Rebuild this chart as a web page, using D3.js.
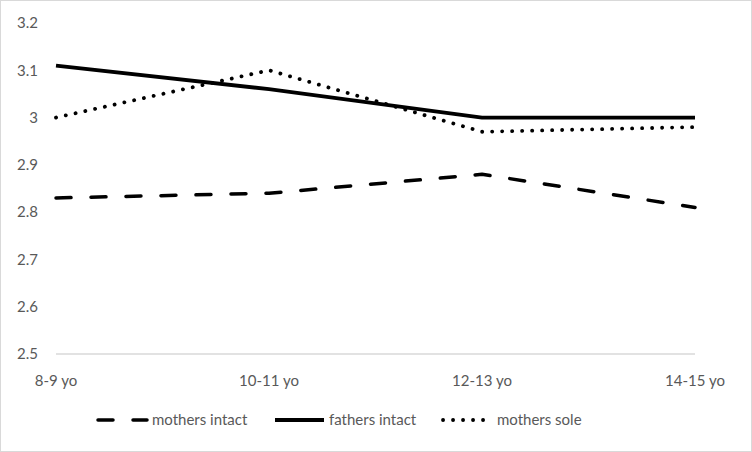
<!DOCTYPE html>
<html>
<head>
<meta charset="utf-8">
<script src="https://cdn.jsdelivr.net/npm/d3@7"></script>
<style>
  body { margin: 0; background: #fff; }
  svg { display: block; }
  text { font-family: Lato, "Open Sans", sans-serif; fill: #595959; font-size: 15px; }
</style>
</head>
<body>
<svg id="chart" width="752" height="452"></svg>
<script>
var categories = ["8-9 yo", "10-11 yo", "12-13 yo", "14-15 yo"];
var mothersIntact = [2.83, 2.84, 2.88, 2.81];
var fathersIntact = [3.11, 3.06, 3.00, 3.00];
var mothersSole = [3.00, 3.10, 2.97, 2.98];
var yTicks = [2.5, 2.6, 2.7, 2.8, 2.9, 3.0, 3.1, 3.2];
var seriesNames = ["mothers intact", "fathers intact", "mothers sole"];

var svg = d3.select("#chart");

// outer chart border
svg.append("rect")
    .attr("x", 0.5).attr("y", 0.5)
    .attr("width", 751).attr("height", 451)
    .attr("fill", "#fff")
    .attr("stroke", "#d9d9d9");

var x = d3.scalePoint().domain(categories).range([56, 695]);
var y = d3.scaleLinear().domain([2.5, 3.2]).range([354, 23]);

// baseline
svg.append("line")
    .attr("x1", 56).attr("x2", 695)
    .attr("y1", y(2.5)).attr("y2", y(2.5))
    .attr("stroke", "#d9d9d9").attr("stroke-width", 1.3);

// y tick labels
svg.append("g").selectAll("text")
    .data(yTicks)
    .enter().append("text")
        .attr("x", 38)
        .attr("y", function(d){ return y(d); })
        .attr("dy", "0.35em")
        .attr("text-anchor", "end")
        .text(function(d){ return d === 3 ? "3" : d3.format(".1f")(d); });

// x tick labels
svg.append("g").selectAll("text")
    .data(categories)
    .enter().append("text")
        .attr("x", function(d){ return x(d); })
        .attr("y", 381)
        .attr("dy", "0.35em")
        .attr("text-anchor", "middle")
        .text(function(d){ return d; });

var styles = [
    { dash: "15,20", width: 3.5 },
    { dash: null, width: 3.8 },
    { dash: "0.1,9.9", width: 3.8 }
];

var series = [mothersIntact, fathersIntact, mothersSole];

var line = d3.line()
    .x(function(d, i){ return x(categories[i]); })
    .y(function(d){ return y(d); });

series.forEach(function(vals, k){
    svg.append("path")
        .datum(vals)
        .attr("d", line)
        .attr("fill", "none")
        .attr("stroke", "#000")
        .attr("stroke-width", styles[k].width)
        .attr("stroke-linecap", k === 1 ? "butt" : "round")
        .attr("stroke-linejoin", "round")
        .attr("stroke-dasharray", styles[k].dash);
});

// legend
var legendX = [98, 275, 443];
var legend = svg.append("g");
seriesNames.forEach(function(name, k){
    legend.append("line")
        .attr("x1", legendX[k]).attr("x2", legendX[k] + 49)
        .attr("y1", 420).attr("y2", 420)
        .attr("stroke", "#000")
        .attr("stroke-width", styles[k].width)
        .attr("stroke-linecap", k === 1 ? "butt" : "round")
        .attr("stroke-dasharray", styles[k].dash);
    legend.append("text")
        .attr("x", legendX[k] + 54)
        .attr("y", 420)
        .attr("dy", "0.35em")
        .text(name);
});
</script>
</body>
</html>
